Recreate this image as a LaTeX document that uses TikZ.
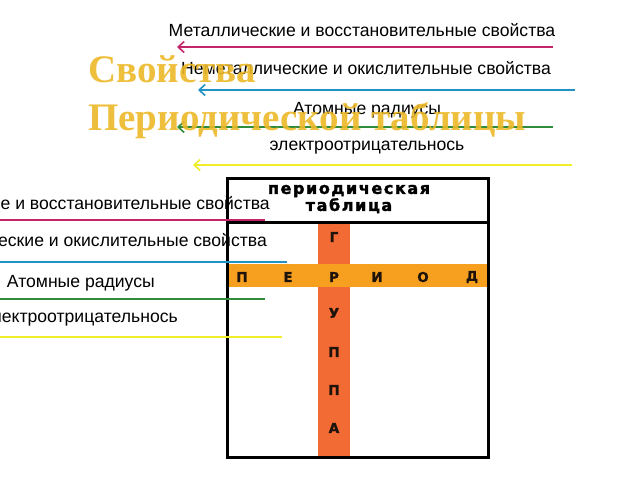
\documentclass[tikz,border=0pt]{standalone}
\usepackage{fontspec}
\setmainfont{Liberation Sans}
\newfontfamily\titlefont{Liberation Serif}
\newfontfamily\boxfont{DejaVu Sans}
\usetikzlibrary{arrows.meta}
\definecolor{cmag}{RGB}{196,36,106}
\definecolor{cblue}{RGB}{34,146,196}
\definecolor{cgreen}{RGB}{46,140,58}
\definecolor{cyel}{RGB}{240,238,40}
\definecolor{cgold}{RGB}{237,185,40}
\definecolor{corange}{RGB}{247,160,32}
\definecolor{cred}{RGB}{242,106,52}
\tikzset{
  lbl/.style={font=\fontsize{17.6}{20}\selectfont, inner sep=0pt, text=black},
  arr/.style={line width=2.4pt, {Straight Barb[length=6pt,width=11pt,line width=1.6pt]}-},
  bar/.style={line width=2.4pt},
  ttl/.style={font=\titlefont\bfseries\fontsize{39}{44}\selectfont, text=cgold, inner sep=0pt, opacity=0.9, anchor=base west},
  letter/.style={font=\boxfont\bfseries\fontsize{13.5}{14}\selectfont\addfontfeature{FakeBold=1.5}, text=black!85!brown, inner sep=0pt},
}
\begin{document}
\begin{tikzpicture}[x=1pt,y=-1pt]
\useasboundingbox (0,0) rectangle (640,480);
\clip (0,0) rectangle (640,480);
\fill[white] (0,0) rectangle (640,480);
% table
\fill[cred] (318,222) rectangle (350,457);
\fill[corange] (227,264) rectangle (488,287);
\draw[line width=3pt] (227,178) rectangle (488,457);
\draw[line width=3pt] (227,222) -- (488,222);
\node[font=\boxfont\bfseries\fontsize{16}{18}\selectfont\addfontfeature{LetterSpace=10,FakeBold=2}, align=center, inner sep=0pt] (hdr) at (349,199) {периодическая\\[-1pt]таблица};
\node[letter] (p1) at (242,277) {П};
\node[letter] (p2) at (288,277) {Е};
\node[letter] (p3) at (334,277) {Р};
\node[letter] (p4) at (377,277) {И};
\node[letter] (p5) at (423,277) {О};
\node[letter] (p6) at (472,277) {Д};
\node[letter] (g1) at (334,237) {Г};
\node[letter] (g3) at (334,313) {У};
\node[letter] (g4) at (334,352) {П};
\node[letter] (g5) at (334,390) {П};
\node[letter] (g6) at (334,428) {А};
% top labels
\node[lbl] (t1) at (362,30) {Металлические и восстановительные свойства};
\node[lbl] (t2) at (366,68) {Неметаллические и окислительные свойства};
\node[lbl] (t3) at (367,110) {Атомные радиусы};
\node[lbl] (t4) at (367,148) {электроотрицательнось};
\coordinate (a1s) at (553,47); \coordinate (a1e) at (177,47);
\coordinate (a2s) at (575,90); \coordinate (a2e) at (198,90);
\coordinate (a3s) at (553,127); \coordinate (a3e) at (177,127);
\coordinate (a4s) at (572,165); \coordinate (a4e) at (193,165);
\draw[arr, cmag] (a1e) -- (a1s);
\draw[arr, cblue] (a2e) -- (a2s);
\draw[arr, cgreen] (a3e) -- (a3s);
\draw[arr, cyel] (a4e) -- (a4s);
% left labels
\node[lbl, anchor=east] (l1) at (270,203) {Металлические и восстановительные свойства};
\node[lbl, anchor=east] (l2) at (267,240) {Неметаллические и окислительные свойства};
\node[lbl, anchor=east] (l3) at (155,283) {Атомные радиусы};
\node[lbl, anchor=east] (l4) at (178,320) {электроотрицательнось};
\coordinate (b1s) at (-5,220); \coordinate (b1e) at (265,220);
\coordinate (b2s) at (-5,262); \coordinate (b2e) at (287,262);
\coordinate (b3s) at (-5,299); \coordinate (b3e) at (265,299);
\coordinate (b4s) at (-5,337); \coordinate (b4e) at (282,337);
\draw[bar, cmag] (b1s) -- (b1e);
\draw[bar, cblue] (b2s) -- (b2e);
\draw[bar, cgreen] (b3s) -- (b3e);
\draw[bar, cyel] (b4s) -- (b4e);
% title
\node[ttl] (ttl1) at (88,82) {Свойства};
\node[ttl] (ttl2) at (88,130) {Периодической таблицы};
\end{tikzpicture}
\end{document}
